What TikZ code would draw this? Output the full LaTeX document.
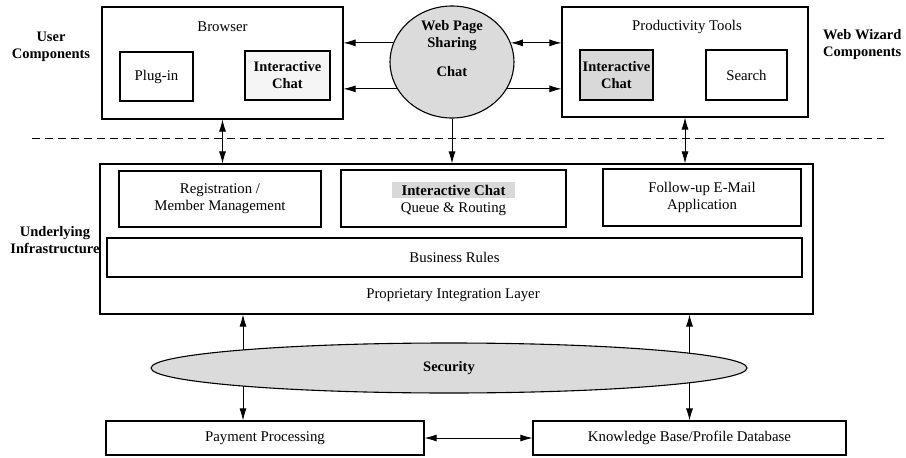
\documentclass[tikz,border=0pt]{standalone}
\usepackage{fontspec}
\setmainfont{Liberation Serif}
\usepackage{xcolor}
\usetikzlibrary{positioning,shapes.geometric,arrows.meta}

\newcommand{\greyhl}[1]{{\setlength{\fboxsep}{3pt}\colorbox{gray!30}{\hspace{7pt}#1\hspace{7pt}}}}

\tikzset{
  txt/.style={inner sep=0pt,align=center,font=\fontsize{14.8}{17}\selectfont},
  side/.style={txt,font=\fontsize{14.5}{17}\selectfont\bfseries},
  box/.style={txt,draw,line width=1.1pt,minimum width=#1},
  blob/.style={draw,line width=1.1pt,ellipse,inner sep=0pt,fill=gray!28},
  onearrow/.style={line width=0.8pt,-{Latex[length=12pt,width=7pt]}},
  twoarrow/.style={line width=0.8pt,{Latex[length=12pt,width=7pt]}-{Latex[length=12pt,width=7pt]}}
}

\begin{document}
\begin{tikzpicture}[x=1pt,y=-1pt]
\useasboundingbox (0,0) rectangle (906,458);

% top row
\node[side] (usr) at (51,47) {User\\Components};
\node[box=241pt,minimum height=112pt] (browser) at (222.5,63) {};
\node[txt] (browsertitle) at (222.5,27) {Browser};
\node[box=73pt,minimum height=49pt] (plugin) at (156.5,76.5) {Plug-in};
\node[box=85pt,minimum height=49pt,fill=gray!8,font=\fontsize{14.5}{17}\selectfont\bfseries] (chatone) at (287.5,75.5) {Interactive\\Chat};

\node[blob,minimum width=124pt,minimum height=112pt] (wps) at (452,62) {};
\node[side] (wpstext) at (452,49) {Web Page\\Sharing\\[12pt]Chat};

\node[box=246pt,minimum height=110pt] (prod) at (685,62) {};
\node[txt] (prodtitle) at (687,27) {Productivity Tools};
\node[box=73pt,minimum height=50pt,fill=gray!30,font=\fontsize{14.5}{17}\selectfont\bfseries] (chattwo) at (616.5,75) {Interactive\\Chat};
\node[box=81pt,minimum height=50pt] (search) at (746.5,75) {Search};
\node[side,align=left,anchor=west] (wiz) at (823,45) {Web Wizard\\Components};

\draw[onearrow] (wps.162) -- (wps.162 -| browser.east);
\draw[onearrow] (wps.206) -- (wps.206 -| browser.east);
\draw[twoarrow] (wps.18) -- (wps.18 -| prod.west);
\draw[onearrow] (wps.-26) -- (wps.-26 -| prod.west);

\coordinate (dl) at (32,138);
\coordinate (dr) at (884,138);
\draw[line width=0.8pt,dash pattern=on 8pt off 5pt] (dl) -- (dr);

% infrastructure
\node[side] (under) at (55,240) {Underlying\\Infrastructure};
\node[box=713pt,minimum height=150pt] (infra) at (456.5,239) {};
\node[box=202pt,minimum height=56pt] (reg) at (220,199) {Registration /\\Member Management};
\node[box=225pt,minimum height=57pt] (queue) at (453.5,198.5) {\greyhl{\textbf{Interactive Chat}}\\[0pt]Queue \& Routing};
\node[box=198pt,minimum height=57pt] (mail) at (702,197.5) {Follow-up E-Mail\\Application};
\node[box=695pt,minimum height=39pt] (rules) at (454.5,257.5) {Business Rules};
\node[txt] (layer) at (453,295) {Proprietary Integration Layer};

\draw[twoarrow] (browser.south) -- (browser.south |- infra.north);
\draw[onearrow] (wps.south) -- (wps.south |- infra.north);
\draw[twoarrow] (prod.south) -- (prod.south |- infra.north);

% back end
\node[box=318pt,minimum height=34pt] (pay) at (265,438) {Payment Processing};
\node[box=313pt,minimum height=34pt] (kb) at (689.5,438) {Knowledge Base/Profile Database};

\draw[twoarrow] ([xshift=-22pt]pay.north |- infra.south) -- ([xshift=-22pt]pay.north);
\draw[twoarrow] (kb.north |- infra.south) -- (kb.north);
\draw[twoarrow] (pay) -- (kb);

\node[blob,side,minimum width=596pt,minimum height=50pt] (sec) at (449,368) {Security};
\end{tikzpicture}
\end{document}
